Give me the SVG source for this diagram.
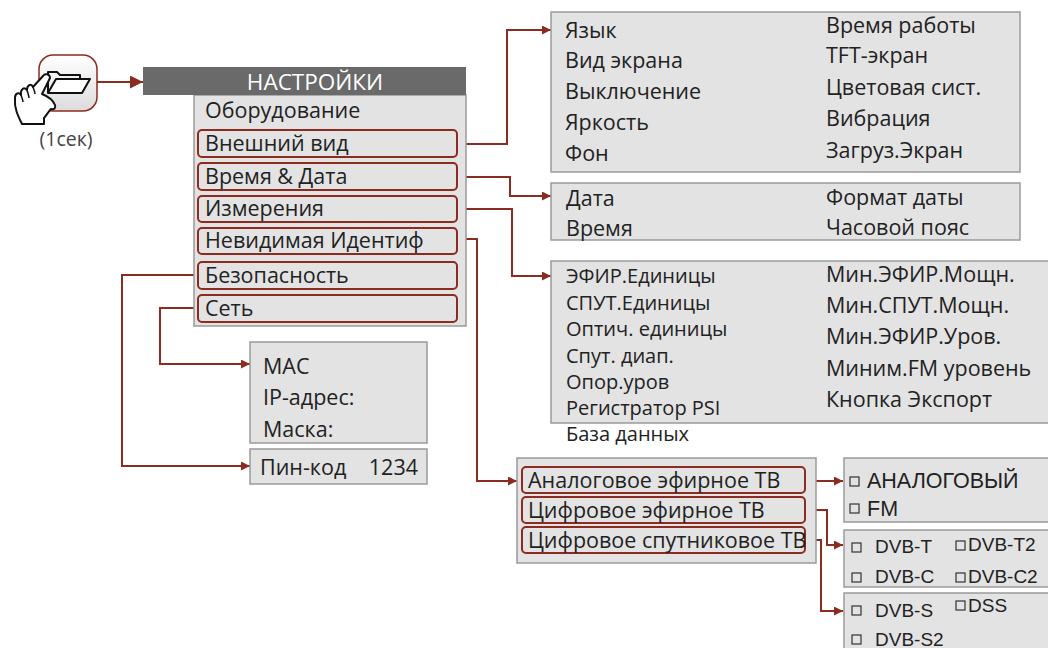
<svg xmlns="http://www.w3.org/2000/svg" width="1048" height="648" viewBox="0 0 1048 648">
  <defs>
    <marker id="arr" viewBox="0 0 10 10" refX="10" refY="5" markerWidth="9" markerHeight="9" markerUnits="userSpaceOnUse" orient="auto">
      <path d="M0,0 L10,5 L0,10 Z" fill="#8c2b1f"/>
    </marker>
    <marker id="arrBig" viewBox="0 0 10 10" refX="10" refY="5" markerWidth="13" markerHeight="13" markerUnits="userSpaceOnUse" orient="auto">
      <path d="M0,0 L10,5 L0,10 Z" fill="#8c2b1f"/>
    </marker>
    <linearGradient id="btn" x1="0" y1="0" x2="0" y2="1">
      <stop offset="0" stop-color="#ffffff"/>
      <stop offset="1" stop-color="#dcdcdc"/>
    </linearGradient>
  </defs>
  <style>
    .box { fill: #e3e3e3; stroke: #9a9a9a; stroke-width: 1.5; }
    .item { fill: #e3e3e3; stroke: #8c2b1f; stroke-width: 2; }
    .t { font-family: "Open Sans", "Noto Sans", "DejaVu Sans", sans-serif; font-size: 21.5px; fill: #222; }
    .ts { font-family: "Open Sans", "Noto Sans", "DejaVu Sans", sans-serif; font-size: 20px; fill: #222; }
    .a { font-family: "Liberation Sans", Arial, sans-serif; font-size: 19px; fill: #222; }
    .al { font-family: "Liberation Sans", Arial, sans-serif; font-size: 21.5px; fill: #222; }
    .cb { fill: none; stroke: #333; stroke-width: 1.2; }
    .hdr { font-family: "Open Sans", "Noto Sans", sans-serif; font-size: 22.5px; fill: #ffffff; }
    .link { fill: none; stroke: #8c2b1f; stroke-width: 2; }
  </style>
  <rect width="1048" height="648" fill="#ffffff"/>

  <!-- connectors -->
  <g id="connectors">
    <path class="link" d="M97,82 H143" marker-end="url(#arrBig)"/>
    <path class="link" d="M457,144 H507 V30 H551" marker-end="url(#arr)"/>
    <path class="link" d="M457,177 H510 V196 H551" marker-end="url(#arr)"/>
    <path class="link" d="M457,209 H512 V276 H551" marker-end="url(#arr)"/>
    <path class="link" d="M457,239 H477 V481 H517" marker-end="url(#arr)"/>
    <path class="link" d="M198,275 H122 V466 H250" marker-end="url(#arr)"/>
    <path class="link" d="M198,308 H160 V364 H250" marker-end="url(#arr)"/>
    <path class="link" d="M805,481 H843" marker-end="url(#arr)"/>
    <path class="link" d="M805,510 H827 V545 H843" marker-end="url(#arr)"/>
    <path class="link" d="M805,540 H821 V611 H843" marker-end="url(#arr)"/>
  </g>

  <!-- launch button: folder icon with pointing hand -->
  <g id="launch">
    <rect x="39" y="55" width="58" height="56" rx="14" fill="url(#btn)" stroke="#8c2b1f" stroke-width="1.5"/>
    <path d="M48,93 V72 H57 L60,75 H80 V79" fill="none" stroke="#111" stroke-width="2" stroke-linejoin="round"/>
    <path d="M48,93 L56,79 H90 L82,93 Z" fill="#fff" stroke="#111" stroke-width="2" stroke-linejoin="round"/>
    <path d="M22,124 C18,116 14,108 15,98 C15,93 19,92 21,95 C20,90 24,86 27,90 C27,85 31,83 33,87 L43,76 C45,73 50,74 50,78 L42,94 C47,96 53,100 55,105 C56,108 54,110 51,109 C48,112 46,116 44,118 L44,124 Z" fill="#fff" stroke="#111" stroke-width="2" stroke-linejoin="round"/>
    <path d="M21,95 C22,98 23,100 23,102 M27,90 C28,94 29,96 29,98 M33,87 C34,90 35,92 35,94" fill="none" stroke="#111" stroke-width="1.5"/>
    <text x="66" y="146" text-anchor="middle" font-family="Open Sans, Noto Sans, sans-serif" font-size="19.5" fill="#444">(1сек)</text>
  </g>

  <!-- main settings menu -->
  <g id="settings">
    <rect x="194" y="95" width="272" height="231" class="box"/>
    <rect x="143" y="67" width="323" height="28" fill="#6a6a6a"/>
    <text x="315" y="90" text-anchor="middle" class="hdr">НАСТРОЙКИ</text>
    <text x="205" y="118" class="t">Оборудование</text>
    <rect x="198" y="130" width="259" height="27" rx="4" class="item"/>
    <text x="205" y="151" class="t">Внешний вид</text>
    <rect x="198" y="163" width="259" height="27" rx="4" class="item"/>
    <text x="205" y="184" class="t">Время &amp; Дата</text>
    <rect x="198" y="196" width="259" height="26" rx="4" class="item"/>
    <text x="205" y="216" class="t">Измерения</text>
    <rect x="198" y="228" width="259" height="26" rx="4" class="item"/>
    <text x="205" y="248" class="t">Невидимая Идентиф</text>
    <rect x="198" y="262" width="259" height="27" rx="4" class="item"/>
    <text x="205" y="283" class="t">Безопасность</text>
    <rect x="198" y="295" width="259" height="27" rx="4" class="item"/>
    <text x="205" y="316" class="t">Сеть</text>
  </g>

  <!-- appearance submenu -->
  <g id="appearance">
    <rect x="551" y="12" width="469" height="160" class="box"/>
    <text x="565" y="38" class="t">Язык</text>
    <text x="565" y="68" class="t">Вид экрана</text>
    <text x="565" y="99" class="t">Выключение</text>
    <text x="565" y="130" class="t">Яркость</text>
    <text x="565" y="161" class="t">Фон</text>
    <text x="826" y="33" class="t">Время работы</text>
    <text x="826" y="63" class="t">TFT-экран</text>
    <text x="826" y="95" class="t">Цветовая сист.</text>
    <text x="826" y="126" class="t">Вибрация</text>
    <text x="826" y="158" class="t">Загруз.Экран</text>
  </g>

  <!-- time and date submenu -->
  <g id="timedate">
    <rect x="551" y="183" width="469" height="57" class="box"/>
    <text x="566" y="206" class="t">Дата</text>
    <text x="566" y="236" class="t">Время</text>
    <text x="826" y="205" class="t">Формат даты</text>
    <text x="826" y="235" class="t">Часовой пояс</text>
  </g>

  <!-- measurement submenu -->
  <g id="measure">
    <rect x="551" y="261" width="510" height="162" class="box"/>
    <text x="566" y="283" class="ts">ЭФИР.Единицы</text>
    <text x="566" y="309.5" class="ts">СПУТ.Единицы</text>
    <text x="566" y="336" class="ts">Оптич. единицы</text>
    <text x="566" y="362.5" class="ts">Спут. диап.</text>
    <text x="566" y="389" class="ts">Опор.уров</text>
    <text x="566" y="415" class="ts">Регистратор PSI</text>
    <text x="566" y="441" class="ts">База данных</text>
    <text x="826" y="282" class="t">Мин.ЭФИР.Мощн.</text>
    <text x="826" y="313" class="t">Мин.СПУТ.Мощн.</text>
    <text x="826" y="344" class="t">Мин.ЭФИР.Уров.</text>
    <text x="826" y="376" class="t">Миним.FM уровень</text>
    <text x="826" y="407" class="t">Кнопка Экспорт</text>
  </g>

  <!-- network submenu -->
  <g id="network">
    <rect x="250" y="342" width="177" height="101" class="box"/>
    <text x="263" y="374" class="t">MAC</text>
    <text x="263" y="405" class="t">IP-адрес:</text>
    <text x="263" y="437" class="t">Маска:</text>
  </g>

  <!-- security: pin code -->
  <g id="pincode">
    <rect x="250" y="449" width="177" height="35" class="box"/>
    <text x="260" y="475" class="t">Пин-код</text>
    <text x="418" y="475" text-anchor="end" class="t">1234</text>
  </g>

  <!-- invisible identification submenu -->
  <g id="tvtypes">
    <rect x="517" y="458" width="299" height="105" class="box"/>
    <rect x="522" y="467" width="283" height="26" rx="4" class="item"/>
    <text x="528" y="488" class="t">Аналоговое эфирное ТВ</text>
    <rect x="522" y="497" width="283" height="26" rx="4" class="item"/>
    <text x="528" y="518" class="t">Цифровое эфирное ТВ</text>
    <rect x="522" y="527" width="283" height="26" rx="4" class="item"/>
    <text x="528" y="548" class="t">Цифровое спутниковое ТВ</text>
  </g>

  <g id="analog">
    <rect x="844" y="458" width="220" height="64" class="box"/>
    <rect x="850" y="477" width="9" height="9" class="cb"/>
    <text x="867" y="488" class="al">АНАЛОГОВЫЙ</text>
    <rect x="850" y="504" width="9" height="9" class="cb"/>
    <text x="867" y="516" class="al">FM</text>
  </g>

  <g id="terrestrial">
    <rect x="844" y="530" width="220" height="57" class="box"/>
    <rect x="852" y="543" width="9" height="9" class="cb"/>
    <text x="875" y="553" class="a">DVB-T</text>
    <rect x="956" y="541" width="9" height="9" class="cb"/>
    <text x="968" y="551" class="a">DVB-T2</text>
    <rect x="852" y="573" width="9" height="9" class="cb"/>
    <text x="875" y="583" class="a">DVB-C</text>
    <rect x="956" y="573" width="9" height="9" class="cb"/>
    <text x="968" y="583" class="a">DVB-C2</text>
  </g>

  <g id="satellite">
    <rect x="844" y="593" width="220" height="70" class="box"/>
    <rect x="852" y="606" width="9" height="9" class="cb"/>
    <text x="875" y="617" class="a">DVB-S</text>
    <rect x="956" y="601" width="9" height="9" class="cb"/>
    <text x="968" y="612" class="a">DSS</text>
    <rect x="852" y="635" width="9" height="9" class="cb"/>
    <text x="875" y="646" class="a">DVB-S2</text>
  </g>
</svg>
